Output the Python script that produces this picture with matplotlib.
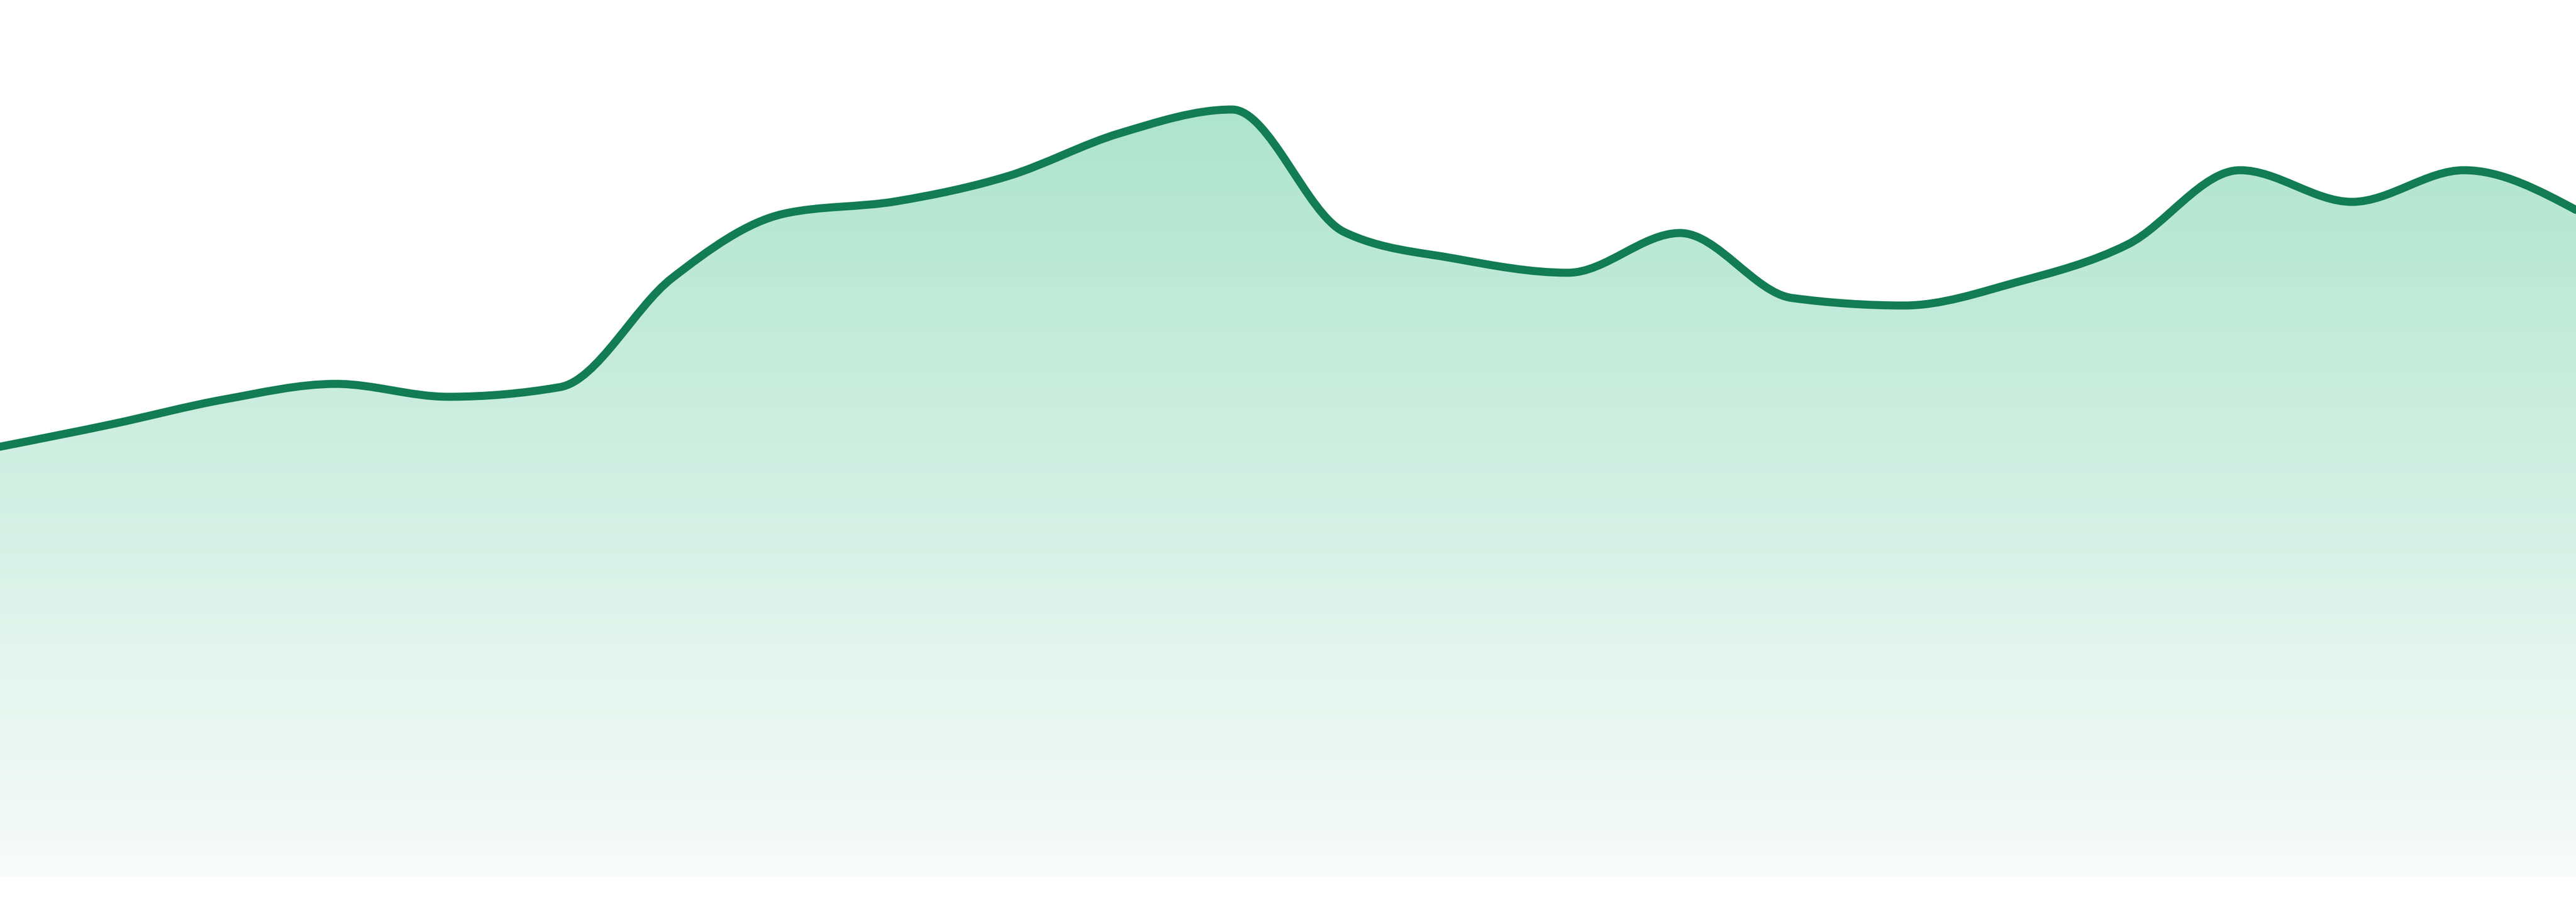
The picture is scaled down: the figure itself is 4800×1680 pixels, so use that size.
import numpy as np
import matplotlib
matplotlib.use('Agg')
import matplotlib.pyplot as plt
from matplotlib.path import Path
from matplotlib.patches import PathPatch
from matplotlib.colors import LinearSegmentedColormap

# series (24 evenly spaced points)
values = [80.0, 84.2, 88.8, 91.7, 89.3, 91.1, 111.4, 123.4, 125.7, 130.4,
          138.4, 142.8, 120.0, 115.0, 112.4, 119.8, 107.7, 106.3, 110.6,
          117.7, 131.5, 125.6, 131.5, 124.1]
x = np.arange(len(values), dtype=float)
y = np.array(values, dtype=float)

line_color = '#127c54'
top_color = '#aee4cf'
bottom_color = '#f8fbfa'


def monotone_slopes(xs, ys):
    # same tangents as d3.curveMonotoneX
    n = len(xs)
    t = np.zeros(n)
    for i in range(1, n - 1):
        h0 = xs[i] - xs[i - 1]
        h1 = xs[i + 1] - xs[i]
        s0 = (ys[i] - ys[i - 1]) / h0
        s1 = (ys[i + 1] - ys[i]) / h1
        p = (s0 * h1 + s1 * h0) / (h0 + h1)
        t[i] = (np.sign(s0) + np.sign(s1)) * min(abs(s0), abs(s1), 0.5 * abs(p))
    t[0] = (3 * (ys[1] - ys[0]) / (xs[1] - xs[0]) - t[1]) / 2
    t[-1] = (3 * (ys[-1] - ys[-2]) / (xs[-1] - xs[-2]) - t[-2]) / 2
    return t


t = monotone_slopes(x, y)
verts = [(x[0], y[0])]
codes = [Path.MOVETO]
for i in range(len(x) - 1):
    dx = (x[i + 1] - x[i]) / 3
    verts += [(x[i] + dx, y[i] + dx * t[i]),
              (x[i + 1] - dx, y[i + 1] - dx * t[i + 1]),
              (x[i + 1], y[i + 1])]
    codes += [Path.CURVE4] * 3

line_path = Path(verts, codes)
area_path = Path(verts + [(x[-1], 0), (x[0], 0), (x[0], y[0])],
                 codes + [Path.LINETO, Path.LINETO, Path.CLOSEPOLY])

fig = plt.figure(figsize=(16, 5.6), dpi=300)
ax = fig.add_axes([0, 0, 1, 1])
ax.set_xlim(0, len(values) - 1)
ax.set_ylim(-4.8, 163.2)
ax.axis('off')

area = PathPatch(area_path, facecolor='none', edgecolor='none')
ax.add_patch(area)
cmap = LinearSegmentedColormap.from_list('fade', [bottom_color, top_color])
grad = np.linspace(0, 1, 256).reshape(-1, 1)
img = ax.imshow(grad, cmap=cmap, origin='lower', aspect='auto',
                extent=[0, len(values) - 1, 0, y.max()], zorder=1)
img.set_clip_path(area)

ax.add_patch(PathPatch(line_path, facecolor='none', edgecolor=line_color,
                       lw=3.6, joinstyle='round', capstyle='round', zorder=2))

fig.savefig('out.png', dpi=300, facecolor='white')
